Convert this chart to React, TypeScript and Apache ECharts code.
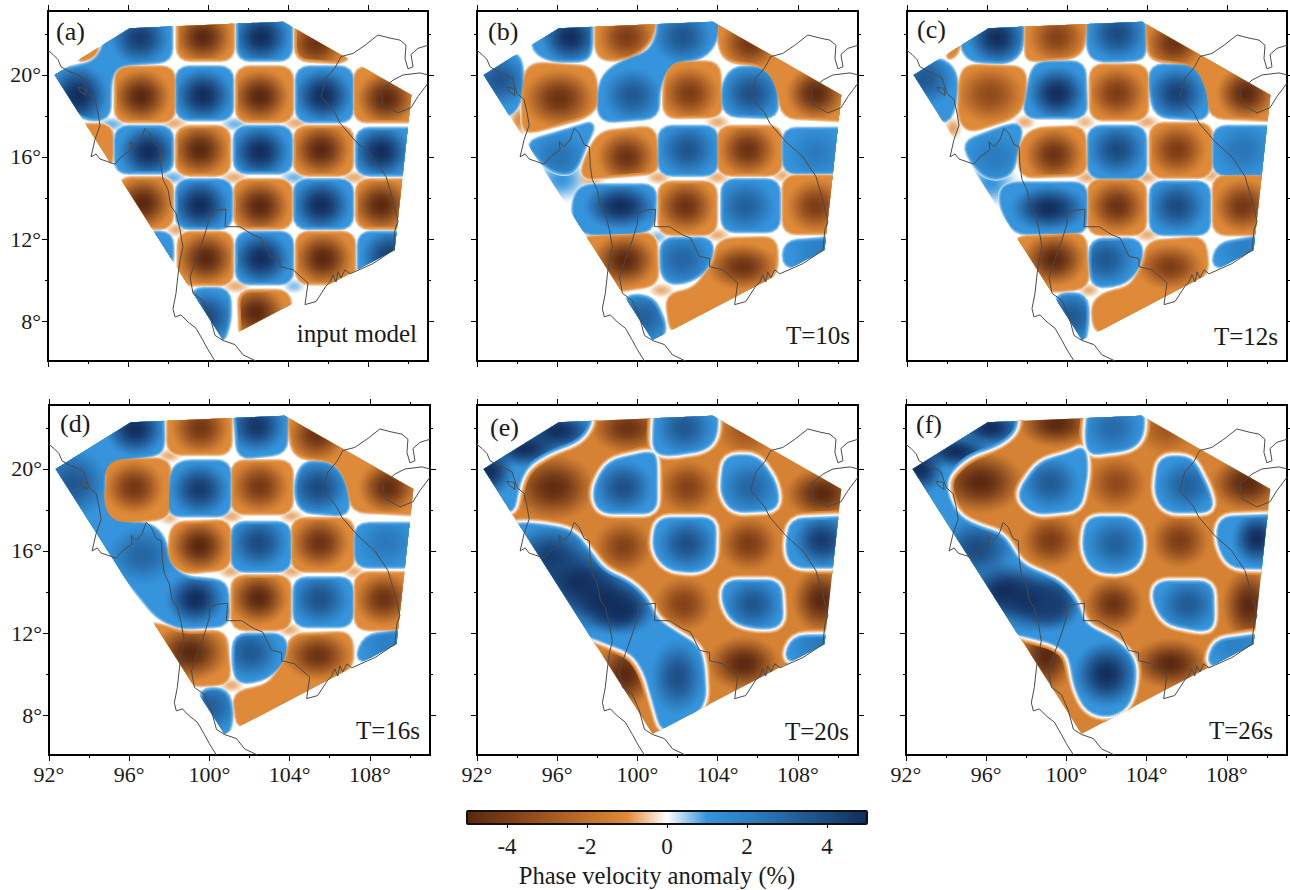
import React, { useEffect, useRef } from "react";
import * as echarts from "echarts";

const COLOR_VALUES = [-5, -4, -3, -2, -1, 0, 1, 2, 3, 4, 5];
const COLOR_HEX = ["#5a2810", "#7d3c16", "#a0561f", "#bf7029", "#df8a38", "#ffffff", "#3594dc", "#2c80c4", "#2465a2", "#1c4a80", "#122d5c"];
const COLORBAR_TICKS = [-4, -2, 0, 2, 4];
const LON_MAJOR = [92, 96, 100, 104, 108];
const LON_MINOR = [94, 98, 102, 106, 110];
const LAT_MAJOR = [8, 12, 16, 20];
const LAT_MINOR = [10, 14, 18, 22];
const REGION = [[92.33, 20], [96.08, 22.28], [103.75, 22.6], [110.17, 19.02], [109.33, 11.46], [100.75, 7.07]];

const COAST_WEST = [[92, 21.2], [92.25, 21], [92.5, 20.75], [92.65, 20.4], [93.1, 20.15], [93.5, 20], [93.75, 19.85], [94, 19.1], [94.35, 18.8], [94.5, 18.15], [94.6, 17.55], [94.35, 16.85], [94.15, 16], [94.4, 16.15], [94.6, 15.9], [94.9, 15.8], [95.35, 15.65], [95.65, 16], [96.15, 16.35], [96.1, 16.75], [96.35, 16.5], [96.65, 16.85], [96.85, 17.4], [97.1, 17.15], [97.35, 16.6], [97.6, 16.5], [97.65, 15.55], [97.75, 14.9], [98, 14.4], [98.15, 13.6], [98.4, 13.25], [98.6, 12.45], [98.75, 11.6], [98.6, 11], [98.5, 10.25], [98.4, 9.35], [98.25, 8.6], [98.35, 8.2], [98.65, 8.3], [99, 7.95], [99.4, 7.65], [99.75, 7.05], [100, 6.6], [100.35, 6.05]];
const COAST_EAST = [[102.4, 6.05], [101.75, 6.35], [101.35, 6.85], [100.75, 7.05], [100.35, 7.3], [100.1, 8.2], [99.75, 9], [99.25, 9.35], [99.1, 10.15], [99.4, 11], [99.75, 11.95], [100, 12.75], [100, 13.25], [100.4, 13.4], [100.9, 13.45], [100.85, 12.6], [101.6, 12.6], [102.25, 12.2], [102.65, 12.05], [103.1, 11.15], [103.6, 11.05], [103.6, 10.65], [104.25, 10.5], [105, 9.85], [104.85, 8.8], [105.4, 8.95], [105.9, 9.7], [106.1, 9.9], [106.25, 10.25], [106.4, 9.9], [106.5, 10.4], [106.65, 10.1], [106.85, 10.5], [107.1, 10.3], [108.25, 10.8], [109.25, 11.45], [109.35, 12.45], [109.5, 12.85], [109.25, 13.9], [108.9, 15.05], [108.25, 16], [107.4, 16.75], [106.6, 17.65], [106.35, 18.15], [105.65, 18.95], [105.9, 19.85], [106.35, 20.35], [106.65, 20.9], [107.25, 21.05], [107.85, 21.45], [108.5, 21.95], [109.1, 21.8], [109.6, 21.7], [109.9, 21.45], [109.85, 20.8], [110, 20.3], [110.25, 20.4], [110.15, 21], [110.5, 21.3], [111, 21.45]];
const COAST_HAINAN = [[111, 20], [110.6, 20.1], [109.75, 20], [109.25, 19.75], [108.65, 19.25], [108.75, 18.55], [109.5, 18.15], [110.15, 18.4], [110.5, 18.95], [111, 19.6]];
const COAST_ISLAND = [[93.5, 19.4], [93.85, 19.35], [93.9, 19], [93.6, 19.2], [93.5, 19.4]];

// Patches: sign, then W,E,S,N (rectangle) or lon,lat pairs (outline) of the anomaly contour.
const patchesA = [
  [1, 95, 23, 98.1, 23, 98.1, 20.75, 95.5, 20.55, 95.05, 19.9, 95, 17.9, 93.75, 17.9, 91.6, 20, 93.25, 20.3, 94.35, 20.55, 94.9, 21.4],
  [-1, 93.4, 20.7, 94.5, 21.6, 94.3, 20.95],
  [-1, 98.55, 101.2, 20.8, 23.2], [1, 101.55, 104.1, 20.8, 23.2],
  [-1, 104.45, 23, 108.25, 23, 106.85, 20.65, 104.45, 20.8],
  [-1, 95.45, 98.25, 17.8, 20.3], [1, 98.5, 101.15, 17.9, 20.3], [-1, 101.5, 104.15, 17.8, 20.3], [1, 104.5, 107.15, 17.8, 20.3], [-1, 107.4, 111.5, 17.8, 20.3],
  [-1, 93.25, 95.15, 15.55, 17.5], [1, 95.45, 98.15, 15.3, 17.4], [-1, 98.5, 101, 15.2, 17.4], [1, 101.4, 104.1, 15.3, 17.4], [-1, 104.4, 107.15, 15.2, 17.4], [1, 107.5, 111.5, 15.2, 17.3],
  [-1, 95.6, 98.15, 12.6, 14.9], [1, 98.5, 101.1, 12.6, 14.8], [-1, 101.4, 104.1, 12.6, 14.8], [1, 104.4, 107.15, 12.6, 14.8], [-1, 107.5, 111.5, 12.6, 14.8],
  [1, 96.5, 98.15, 10.6, 12.25], [-1, 98.6, 101.15, 9.85, 12.25], [1, 101.5, 104.15, 9.9, 12.25], [-1, 104.5, 107.25, 9.9, 12.25], [1, 107.6, 111.5, 10, 12.25],
  [1, 99.2, 9.5, 101, 9.5, 101.05, 8, 100.6, 6.8, 99.5, 6.8], [-1, 101.6, 9.4, 104, 9.4, 104.2, 7, 101.7, 7],
];
const peaksA = [
  [96.6, 21.8, 4.5], [99.75, 21.85, -5], [102.65, 21.85, 5], [105.4, 21.55, -4.5],
  [93.5, 19, 5, 1.6, 1.6], [96.65, 18.95, -5], [99.75, 19, 5], [102.6, 18.95, -5], [105.75, 19, 5], [108.9, 18.85, -5],
  [97, 16.25, 5], [99.6, 16.35, -5], [102.6, 16.25, 5], [105.65, 16.35, -5], [108.65, 16.25, 5],
  [96.75, 13.75, -5], [99.6, 13.65, 5], [102.6, 13.6, -5], [105.65, 13.65, 5], [108.65, 13.65, -5],
  [99.9, 11.05, -5], [102.65, 11.05, 5], [105.75, 11.05, -5], [109.1, 11.15, 4.5],
  [99.9, 8.2, 4], [102.4, 8.4, -5],
];
// Soft pale saddles: lon, lat, value, radius lon, radius lat.
const softA = [
  [98.3, 17.65, -0.7, 0.8, 0.4], [104.4, 17.65, -0.7, 0.8, 0.4], [101.3, 15, -0.7, 0.8, 0.4], [107.3, 15, -0.7, 0.8, 0.4], [101.4, 9.7, -0.7, 0.8, 0.4],
  [101.35, 17.6, 0.7, 0.8, 0.4], [95.2, 17.6, 0.7, 0.8, 0.4], [98.25, 15, 0.7, 0.8, 0.4], [104.3, 15, 0.7, 0.8, 0.4], [98.4, 12.45, -0.7, 0.6, 0.4], [104.3, 9.7, 0.6, 0.6, 0.4],
];

const patchesB = [
  [1, 94.75, 23, 97.65, 23, 97.65, 21.2, 97.35, 20.75, 95.75, 20.75, 94.85, 21.2],
  [-1, 98, 23, 100.85, 23, 100.75, 21.85, 99.95, 21, 98.6, 20.75, 98, 21.05],
  [1, 101.1, 23, 104, 23, 103.9, 21.7, 103.25, 20.9, 101.6, 20.65, 101, 19.45, 100.95, 18, 98.25, 17.8, 98.05, 18.8, 98.35, 20, 99.4, 20.65, 100.65, 21.05, 101.1, 22],
  [1, 91.6, 20, 93.9, 21.05, 94.2, 20.4, 94.2, 18.95, 93.65, 18, 92.6, 18.3],
  [-1, 94.75, 20.5, 97.75, 20.3, 98, 18.6, 97.4, 18, 94.75, 17.3, 94.35, 17.4, 94.35, 19.75],
  [-1, 101.75, 20.55, 104, 20.55, 104.15, 18.05, 101.4, 18, 101.4, 19.75],
  [1, 104.75, 20.3, 106.3, 20.3, 106.9, 19.45, 106.9, 18, 104.4, 18.1, 104.25, 19.3],
  [-1, 104.1, 23, 111.5, 23, 111.5, 17.8, 107.35, 18, 107, 19.4, 106.3, 20.5, 104.45, 20.75, 104.1, 21.55],
  [1, 94.5, 16.65, 97.05, 17.4, 97.85, 17.65, 97.35, 16.6, 96.9, 15.45, 96.4, 15.2, 95.6, 15.45],
  [-1, 98.2, 17.15, 100.8, 17.4, 101, 15.3, 97.2, 15, 97.6, 16.2],
  [1, 101.15, 103.9, 15.2, 17.4], [-1, 104.1, 107.1, 15.2, 17.4], [1, 107.35, 111.5, 15.3, 17.3],
  [1, 96.9, 14.05, 97.35, 14.55, 100.85, 14.55, 100.75, 12.6, 100, 12.35, 97.4, 12.3, 96.85, 12.95],
  [-1, 101.15, 103.85, 12.3, 14.7], [1, 104.3, 107, 12.45, 14.8], [-1, 107.35, 111.5, 12.35, 15],
  [-1, 97.1, 12, 100.85, 12.2, 100.95, 9.85, 98.75, 9.5, 96.9, 10.65],
  [1, 101.25, 11.95, 103.7, 11.95, 103.6, 10.8, 102.85, 10.1, 101.75, 9.85, 101.25, 10.3],
  [-1, 104.1, 11.9, 106.85, 12, 106.9, 10.4, 105.9, 9.5, 101.75, 7.4, 101.5, 9.2, 102.9, 9.5, 103.85, 10.8],
  [1, 107.35, 10.65, 107.4, 11.8, 110, 12, 110, 11],
  [1, 99.4, 9.2, 100.75, 9.1, 101.4, 7.65, 100.9, 6.75, 99.9, 6.75],
];
const peaksB = [
  [96.65, 21.85, 5], [99.45, 21.85, -4], [102.25, 21.85, 3.6], [105.6, 21.55, -4.3],
  [93.1, 19.75, 3.6], [96.1, 18.85, -4.5, 1.9, 1.5], [99.75, 19, 3.5], [102.6, 19.1, -4], [105.65, 19.1, 3.8], [108.9, 19.1, -5],
  [96.1, 16, 2.5], [99.45, 16, -4.5], [102.5, 16.35, 3.6], [105.5, 16.35, -4.5], [108.9, 16.2, 2.2],
  [99.15, 13.6, 5, 1.9, 1.2], [102.4, 13.6, -4.5], [105.4, 13.6, 3.2], [108.9, 13.6, -4],
  [99.35, 10.95, -5, 1.7, 1.4], [102.25, 11, 3], [105.25, 10.65, -4.5, 1.9, 1.2], [109, 11.55, 2], [100.3, 8.2, 3.2],
];
const softB = [
  [96.2, 14.9, 1, 1.5, 1.2], [94.1, 17.8, -1, 0.6, 0.9], [97.7, 14.9, -0.7, 0.8, 0.4], [101.05, 15, -0.7, 0.7, 0.4], [104, 15, -0.7, 0.7, 0.4],
  [107.2, 15.1, -0.7, 0.6, 0.4], [101, 12.1, 0.6, 0.6, 0.4], [104, 12.2, -0.7, 0.7, 0.4], [101.2, 9.5, -0.7, 0.7, 0.4], [104, 17.7, -0.7, 0.7, 0.4],
];

const patchesC = [
  [1, 94.9, 23, 97.75, 23, 97.7, 21.2, 97.05, 20.65, 95.2, 20.75, 94.75, 21.4],
  [-1, 94, 20.85, 94.6, 21.6, 94.4, 21],
  [-1, 98, 23, 100.95, 23, 100.8, 21.4, 100.35, 20.9, 98.1, 20.75, 98, 21.2],
  [1, 101.1, 23, 103.8, 23, 103.85, 21.05, 103.5, 20.8, 101.5, 20.75, 101.1, 21.2],
  [-1, 104.05, 23, 111.5, 23, 111.5, 17.8, 107.25, 18, 106.9, 19.6, 106.3, 20.55, 104.25, 20.8, 104.05, 21.55],
  [1, 91.6, 20, 93.6, 20.8, 94.4, 20.15, 94.4, 18.8, 94, 17.65, 92.7, 18.3],
  [-1, 95, 20.4, 97.85, 20.3, 97.85, 18.8, 97.35, 18, 95.1, 17.3, 94.65, 17.95, 94.7, 19.75],
  [1, 98.65, 20.55, 100.8, 20.55, 100.9, 18, 97.9, 18, 98.1, 19.25, 98.3, 20.15],
  [-1, 101.25, 103.95, 17.9, 20.4],
  [1, 104.25, 20.4, 106.35, 20.4, 106.95, 19.25, 107, 17.9, 104.5, 18.05, 104.2, 19.25],
  [1, 94.85, 16.65, 96.85, 17.4, 97.7, 17.55, 97.45, 16.35, 97.2, 15.2, 96.2, 14.95, 95.45, 15.55],
  [-1, 98.3, 17.3, 100.8, 17.4, 100.9, 15.2, 97.75, 15.1, 97.65, 16.5],
  [1, 101.15, 103.85, 15.05, 17.4], [-1, 104.25, 107.15, 15.1, 17.55], [1, 107.4, 111.5, 15.2, 17.4],
  [1, 96.75, 14.4, 97.25, 14.65, 100.9, 14.65, 100.9, 12.45, 100.1, 12.35, 97.4, 12.35, 96.75, 13.6],
  [-1, 101.15, 103.85, 12.3, 14.8], [1, 104.25, 107.05, 12.3, 14.7], [-1, 107.4, 111.5, 12.3, 15],
  [-1, 97.4, 12, 100.85, 12.2, 101, 9.7, 99.1, 9.5, 97, 10.65],
  [1, 101.25, 11.9, 103.65, 11.9, 103.65, 10.8, 102.9, 9.9, 101.4, 9.7, 101.2, 10.6],
  [-1, 104.1, 11.8, 106.8, 12, 107, 10.4, 105.95, 9.5, 101.5, 7.4, 101.3, 8.7, 101.8, 9.25, 103.25, 9.6, 103.9, 10.8],
  [1, 107.3, 10.65, 107.6, 11.7, 110, 12.1, 110, 11],
  [1, 99.45, 9.25, 100.9, 9.25, 101, 8.05, 100.75, 6.75, 99.9, 6.75],
];
const peaksC = [
  [96.5, 21.8, 5], [99.5, 21.85, -3.8], [102.5, 22, 4], [105.35, 21.55, -4.5],
  [92.9, 19.8, 3.5], [96.15, 19.05, -3.5, 1.8, 1.5], [99.5, 19.1, 5], [102.5, 19.1, -4], [105.5, 19.1, 4.3], [108.95, 19.1, -5],
  [96.4, 16, 2.2], [99.35, 16.1, -4.5], [102.5, 16.35, 4], [105.5, 16.35, -4], [108.8, 16.35, 2.4],
  [99.1, 13.5, 5.2, 2, 1.2], [102.5, 13.6, -4.5], [105.5, 13.6, 4], [108.8, 13.6, -4.3],
  [99.35, 11, -5.2, 1.7, 1.4], [101.95, 11, 3.5], [105.15, 10.65, -4, 1.8, 1.2], [108.85, 11.55, 2], [100.2, 8.2, 3.5],
];
const softC = [
  [96.2, 14.7, 1, 1.5, 1.2], [94.3, 17.4, -0.8, 0.5, 0.6], [97.9, 17.7, -0.7, 0.6, 0.4], [100.9, 17.7, -0.6, 0.6, 0.4], [104, 17.7, -0.7, 0.7, 0.4],
  [101, 15, -0.7, 0.7, 0.4], [104, 15, -0.7, 0.7, 0.4], [107.2, 15.1, -0.7, 0.6, 0.4], [104, 12.2, -0.7, 0.7, 0.4], [101.1, 9.5, -0.7, 0.6, 0.4],
];

const patchesD = [
  [1, 94.55, 23, 97.6, 23, 97.65, 21.05, 97.3, 20.75, 95.3, 20.5, 94.7, 19.95, 94.7, 18, 95.55, 17.35, 97.05, 17.25, 97.7, 16.6, 97.95, 15.3, 98.7, 14.65, 100.8, 14.45, 100.9, 12.45, 98.55, 12.3, 97.4, 12.85, 96.3, 14.2, 93.2, 17.1, 91.55, 20.2],
  [-1, 94.95, 20.4, 97.95, 20.4, 97.95, 17.7, 95.3, 17.4, 94.8, 18.1],
  [1, 98.55, 20.3, 100.95, 20.3, 100.95, 17.8, 98, 17.8, 98.1, 19.7],
  [-1, 101.2, 104.05, 17.9, 20.3],
  [1, 104.7, 20.3, 106.2, 20.2, 106.8, 19.15, 106.9, 17.8, 104.55, 18, 104.3, 19.15],
  [-1, 98, 101, 20.8, 23.2],
  [1, 101.3, 23, 103.85, 23, 103.75, 20.85, 101.5, 20.6],
  [-1, 104.05, 23, 111.5, 23, 111.5, 17.8, 107.2, 18, 106.85, 19.55, 106.25, 20.4, 104.35, 20.65, 104.05, 21.55],
  [-1, 98.2, 17.3, 100.95, 17.4, 100.95, 15.2, 98.7, 15, 98, 15.6],
  [1, 101.2, 103.95, 15.1, 17.3], [-1, 104.2, 107.1, 15.1, 17.5], [1, 107.35, 111.5, 15.3, 17.25],
  [-1, 101.2, 103.95, 12.25, 14.7], [1, 104.3, 107.05, 12.4, 14.6], [-1, 107.35, 111.5, 12.25, 14.85],
  [-1, 97.25, 12.4, 98.7, 11.95, 100.75, 12, 100.95, 9.6, 99, 9.5, 96.4, 12.3],
  [1, 101.3, 11.85, 103.7, 11.85, 103.8, 10.8, 102.85, 9.85, 101.5, 9.6, 101.25, 10.4],
  [-1, 104.1, 11.85, 107, 11.95, 107.1, 10.45, 106, 9.55, 101.5, 7.35, 101.25, 9, 103, 9.4, 103.85, 10.6],
  [1, 107.35, 10.65, 107.8, 11.8, 110, 12.1, 110, 11.1],
  [1, 99.55, 9.2, 100.85, 9.2, 101.1, 8, 100.85, 7, 100, 7],
];
const peaksD = [
  [96.3, 21.95, 5], [99.55, 22, -4.3], [102.35, 22.1, 4.7], [105.35, 21.65, -4.5],
  [93.2, 19.3, 3.5, 1.8, 1.8], [96.25, 19.1, -4.3], [99.5, 19, 4.5], [102.5, 19.15, -4.2], [105.4, 19.1, 4], [108.9, 19.1, -4.8],
  [96.65, 15.8, 3, 1.8, 1.5], [99.5, 16.25, -5], [102.45, 16.4, 4], [105.5, 16.4, -4.5], [108.8, 16.4, 2.3],
  [99.3, 13.65, 5.3], [102.45, 13.7, -5], [105.5, 13.65, 3.7], [108.7, 13.65, -4.5],
  [99.05, 11.05, -5.3, 2, 1.5], [102.05, 11.05, 3.5], [105.4, 10.9, -4.5, 1.8, 1.3], [108.85, 11.5, 2], [100.05, 8.4, 3.2],
];
const softD = [
  [98, 20.65, -0.7, 0.7, 0.4], [101.1, 17.7, -0.7, 0.7, 0.4], [104.1, 17.7, -0.7, 0.7, 0.4], [98, 17.6, -0.6, 0.6, 0.4],
  [101.05, 15, -0.7, 0.7, 0.4], [104.1, 15, -0.7, 0.7, 0.4], [107.2, 15, -0.7, 0.6, 0.4], [104, 12.15, -0.7, 0.7, 0.4], [101.1, 9.45, -0.7, 0.7, 0.4],
];

const patchesE = [
  [1, 91.65, 20, 96.1, 23, 97.6, 23, 97.6, 22.2, 97.05, 21.45, 95.55, 20.9, 94.55, 20.3, 94.1, 19.6, 93.9, 18.8, 93.75, 18, 93.1, 18],
  [1, 93.3, 17.15, 94.4, 17.25, 95.45, 17.15, 96.75, 16.9, 97.5, 16, 98.25, 15, 99.6, 14.4, 100.45, 13.6, 100.85, 12.6, 101.95, 11.9, 102.95, 11.3, 103.2, 10.5, 103.3, 8.7, 102.3, 7.4, 101.3, 7.25, 100.45, 10.15, 99.8, 11.1, 97.6, 11.95, 97.3, 11.8, 96.6, 12],
  [1, 98.05, 19.4, 98.65, 20.3, 100.7, 20.75, 100.85, 20.4, 100.85, 17.95, 98.25, 17.95, 97.9, 18.6],
  [1, 101, 23, 103.9, 23, 103.85, 21.55, 103.3, 21, 101.45, 20.75, 100.9, 20.95, 100.9, 21.85],
  [1, 104.45, 20.55, 105.95, 20.55, 106.85, 19.25, 106.95, 18.1, 104.8, 18, 104.3, 18.75, 104.3, 19.5],
  [1, 101.05, 17.5, 103.8, 17.5, 103.75, 15.5, 103, 15.05, 101.5, 15.2, 100.85, 16.1],
  [1, 107.7, 17.45, 111.5, 17.6, 111.5, 15.3, 107.85, 15.3, 107.5, 16],
  [1, 104.45, 14.45, 107.05, 14.45, 107.15, 12.4, 106, 12.3, 104.8, 12.6, 104.3, 13.6],
  [1, 107.4, 10.65, 107.8, 11.75, 110, 11.8, 110, 11.15],
];
const peaksE = [
  [96, 21.85, 5, 2, 1.1], [92.6, 19.9, 5, 1.3, 1.3], [94.4, 21, 5, 1.9, 1],
  [98.3, 13.6, 5.5, 2.4, 1.7], [97, 14.55, 5.5, 2.4, 1.7], [95.7, 15.7, 4.5, 2.2, 1.7], [99.2, 13.1, 5.5, 1.8, 1.3],
  [102, 9.85, 3.8, 1.4, 1.9], [99.3, 19.1, 3.8], [102.35, 22, 3.5], [105.6, 19.1, 3], [102.45, 16.35, 3.8], [109.2, 16.5, 4.5], [105.75, 13.4, 3.6], [109, 11.5, 2.2],
  [95.8, 19.1, -4.8, 2.2, 1.7], [99.5, 22, -4.5, 1.9, 1.3], [105.4, 21.9, -3], [102.5, 19.1, -3.8], [109.2, 18.8, -5.5, 1.9, 1.3],
  [99.3, 16.2, -3.8], [105.55, 16.35, -4], [102.3, 13.4, -3.8], [109.15, 13.6, -5.5, 1.5, 1.7], [105.3, 10.5, -5.5, 1.9, 1.4], [99.4, 10, -5, 1.6, 1.7],
];

const patchesF = [
  [1, 96, 23, 97.45, 23, 97.45, 22.2, 97.2, 21.7, 96.45, 21.2, 95.2, 20.8, 94.3, 20.1, 93.9, 19.45, 94, 18.55, 94.6, 17.55, 95.7, 17.05, 96.75, 16.75, 97.7, 15.25, 99.6, 14.45, 100.45, 13.55, 100.8, 12.35, 102.5, 11.5, 103.3, 10.7, 103.35, 9.6, 103, 8.45, 102.1, 8, 101.1, 8.25, 100.55, 9.25, 100.2, 11.05, 99.4, 11.6, 97.55, 12.05, 96.7, 12.2, 93.35, 17.1, 91.7, 20.2],
  [1, 97.85, 19.1, 98.7, 20.25, 100.3, 20.7, 100.85, 21, 100.95, 19.9, 100.6, 18.1, 98.5, 17.9, 97.75, 18.5],
  [1, 101.2, 23, 103.75, 23, 103.75, 21.65, 103.2, 21.05, 102, 20.9, 101.2, 20.8, 101.05, 21.6],
  [1, 101.1, 17.55, 103.25, 17.55, 103.75, 16.7, 103.6, 15.45, 102.75, 15, 101.4, 15.1, 100.9, 16.1],
  [1, 104.7, 20.5, 106.2, 20.5, 107, 19, 107.25, 18, 105, 18, 104.5, 18.8],
  [1, 107.7, 17.55, 111.5, 17.7, 111.5, 15.2, 108.2, 15.3, 107.6, 16.4],
  [1, 104.55, 14.4, 107.2, 14.4, 107.25, 12.35, 106.7, 12.2, 105, 12.55, 104.4, 13.6],
  [1, 107.1, 10.4, 107.45, 11.55, 110.1, 11.9, 110.1, 11.25],
];
const peaksF = [
  [96.2, 22, 5, 1.8, 1], [92.7, 20, 5.5, 1.3, 1.3], [94.5, 20.85, 5, 1.9, 0.9],
  [98.4, 13.55, 5.5, 2.3, 1.6], [96.9, 14.05, 5.5, 2.1, 1.5], [99.3, 13.4, 4.5], [95.55, 16.1, 4, 2, 1.6], [102, 10, 5.5, 1.7, 1.7],
  [99.2, 19.3, 3.4], [102.3, 22, 2.8], [102.45, 16.35, 3.2], [106, 19.2, 3.2], [109.5, 16.6, 5.5, 1.3, 1.4], [106.05, 13.4, 3.4], [108.4, 11.5, 2],
  [95.7, 19.35, -5, 2.3, 1.6], [99.5, 22.2, -5, 2, 1.2], [105, 22, -3], [102.5, 19.3, -3.5], [109, 19.3, -5.5, 1.9, 1.4],
  [99.2, 16.5, -4], [105.65, 16.5, -4], [102.35, 13.4, -4.5], [109.1, 13.35, -5.5, 1.4, 1.9], [105.2, 10.5, -5.5, 2, 1.3], [99, 10.9, -5.2, 1.5, 1.9],
];

const PANELS = [
  { letter: "(a)", label: "input model", patches: patchesA, peaks: peaksA, soft: softA, base: 0, box: [48, 11, 428, 361], letterXY: [56, 32], labelXY: [417, 335], showLat: true, showLon: false },
  { letter: "(b)", label: "T=10s", patches: patchesB, peaks: peaksB, soft: softB, base: 0, box: [477, 11, 858, 361], letterXY: [488, 32], labelXY: [850, 337], showLat: false, showLon: false },
  { letter: "(c)", label: "T=12s", patches: patchesC, peaks: peaksC, soft: softC, base: 0, box: [907, 11, 1287, 361], letterXY: [917, 30], labelXY: [1278, 338], showLat: false, showLon: false },
  { letter: "(d)", label: "T=16s", patches: patchesD, peaks: peaksD, soft: softD, base: 0, box: [49, 405, 430, 755], letterXY: [60, 424], labelXY: [420, 732], showLat: true, showLon: true },
  { letter: "(e)", label: "T=20s", patches: patchesE, peaks: peaksE, soft: [], base: -1.3, box: [477, 405, 858, 755], letterXY: [490, 428], labelXY: [849, 733], showLat: false, showLon: true },
  { letter: "(f)", label: "T=26s", patches: patchesF, peaks: peaksF, soft: [], base: -1.3, box: [906, 405, 1287, 755], letterXY: [916, 425], labelXY: [1273, 732], showLat: false, showLon: true },
];

const FONT = "'Liberation Serif', serif";
const hexRgb = (h: string) => [1, 3, 5].map((i) => parseInt(h.slice(i, i + 2), 16));
function colorRgb(v: number) {
  const x = Math.max(-5, Math.min(5, v));
  for (let i = 0; i < COLOR_VALUES.length - 1; i++) {
    if (x <= COLOR_VALUES[i + 1]) {
      const t = (x - COLOR_VALUES[i]) / (COLOR_VALUES[i + 1] - COLOR_VALUES[i]);
      const a = hexRgb(COLOR_HEX[i]);
      const b = hexRgb(COLOR_HEX[i + 1]);
      return a.map((c, k) => Math.round(c + (b[k] - c) * t));
    }
  }
  return hexRgb(COLOR_HEX[COLOR_HEX.length - 1]);
}
const color = (v: number, alpha = 1) => {
  const [r, g, b] = colorRgb(v);
  return alpha >= 1 ? `rgb(${r},${g},${b})` : `rgba(${r},${g},${b},${alpha.toFixed(3)})`;
};

function patchVertices(p: number[]) {
  if (p.length === 5) {
    const [, w, e, s, n] = p;
    return [[w, n], [e, n], [e, s], [w, s]];
  }
  const out: number[][] = [];
  for (let i = 1; i < p.length; i += 2) out.push([p[i], p[i + 1]]);
  return out;
}
function roundPoly(pts: number[][], r: number) {
  const out: number[][] = [];
  const n = pts.length;
  for (let i = 0; i < n; i++) {
    const p = pts[i];
    const a = pts[(i + n - 1) % n];
    const b = pts[(i + 1) % n];
    const la = Math.hypot(a[0] - p[0], a[1] - p[1]) || 1;
    const lb = Math.hypot(b[0] - p[0], b[1] - p[1]) || 1;
    const ra = Math.min(r, la / 2);
    const rb = Math.min(r, lb / 2);
    const s = [p[0] + ((a[0] - p[0]) / la) * ra, p[1] + ((a[1] - p[1]) / la) * ra];
    const e = [p[0] + ((b[0] - p[0]) / lb) * rb, p[1] + ((b[1] - p[1]) / lb) * rb];
    for (let k = 0; k <= 4; k++) {
      const t = k / 4;
      const u = 1 - t;
      out.push([u * u * s[0] + 2 * u * t * p[0] + t * t * e[0], u * u * s[1] + 2 * u * t * p[1] + t * t * e[1]]);
    }
  }
  return out;
}
function inside(pt: number[], poly: number[][]) {
  let hit = false;
  for (let i = 0, j = poly.length - 1; i < poly.length; j = i++) {
    const [xi, yi] = poly[i];
    const [xj, yj] = poly[j];
    if (yi > pt[1] !== yj > pt[1] && pt[0] < ((xj - xi) * (pt[1] - yi)) / (yj - yi) + xi) hit = !hit;
  }
  return hit;
}

const SAT_D = 0.5; // offset at which the patch reaches full strength
const WHITE_D = 4.5; // offset at which it has faded to white
const OUTER_D = 9; // offset at which a base panel is back to its base colour
const CORNER = 12;
const PEAK_STOPS = [0, 0.15, 0.3, 0.45, 0.6, 0.75, 0.9, 1];

function peakEl(api: any, pk: number[], shapes: any[]) {
  const [lon, lat, v, rx = 1.55, ry = 1.4] = pk;
  const c = api.coord([lon, lat]);
  const c2 = api.coord([lon + rx, lat - ry]);
  const colorStops = PEAK_STOPS.map((r) => ({
    offset: r,
    color: color(v, Math.pow(Math.cos((r * Math.PI) / 2), 1.4)),
  }));
  const owner = shapes.find((s) => s.sign * v > 0 && inside(c, s.points));
  const el: any = {
    type: "ellipse",
    shape: { cx: c[0], cy: c[1], rx: c2[0] - c[0], ry: c2[1] - c[1] },
    style: { fill: { type: "radial", x: 0.5, y: 0.5, r: 0.5, colorStops } },
    silent: true,
  };
  if (owner) el.clipPath = { type: "polygon", shape: { points: owner.points } };
  return el;
}

function makeField(panel: any) {
  return (_params: any, api: any) => {
    const children: any[] = [];
    const base = panel.base;
    const shapes = panel.patches.map((p: number[]) => ({
      sign: p[0],
      points: roundPoly(patchVertices(p).map((q) => api.coord(q)), CORNER),
    }));
    const dists: number[] = [];
    for (let d = base ? OUTER_D : WHITE_D; d > SAT_D; d -= 0.5) dists.push(d);
    dists.push(SAT_D);
    if (base) {
      const a = api.coord([91, 24]);
      const b = api.coord([112, 5]);
      children.push({ type: "rect", shape: { x: a[0], y: a[1], width: b[0] - a[0], height: b[1] - a[1] }, style: { fill: color(base) }, silent: true });
      panel.peaks.filter((k: number[]) => k[2] * base > 0).forEach((k: number[]) => children.push(peakEl(api, k, [])));
    }
    panel.soft.forEach((k: number[]) => children.push(peakEl(api, k, [])));
    dists.forEach((d) => {
      shapes.forEach((s: any) => {
        let val;
        if (d > WHITE_D) {
          val = (base * (d - WHITE_D)) / (OUTER_D - WHITE_D);
        } else {
          const t = (d - SAT_D) / (WHITE_D - SAT_D);
          val = s.sign * (1 - t * t);
        }
        if (!base && d === WHITE_D) return;
        const c = color(val);
        children.push({
          type: "polygon",
          shape: { points: s.points },
          style: { fill: c, stroke: c, lineWidth: d * 2, lineJoin: "round" },
          silent: true,
        });
      });
    });
    panel.peaks
      .filter((k: number[]) => !base || k[2] * base < 0)
      .forEach((k: number[]) => children.push(peakEl(api, k, shapes)));
    return {
      type: "group",
      clipPath: { type: "polygon", shape: { points: REGION.map((q) => api.coord(q)) } },
      children,
    };
  };
}

function buildOption() {
  const grid: any[] = [];
  const xAxis: any[] = [];
  const yAxis: any[] = [];
  const series: any[] = [];
  const graphic: any[] = [];
  const line = { show: true, onZero: false, lineStyle: { color: "#000", width: 2 } };

  PANELS.forEach((panel, i) => {
    const [l, t, r, b] = panel.box;
    grid.push({ left: l, top: t, width: r - l, height: b - t, show: false });
    const xBase = { type: "value", gridIndex: i, min: 92, max: 111, splitLine: { show: false }, axisLine: line };
    const yBase = { type: "value", gridIndex: i, min: 6.05, max: 23.12, splitLine: { show: false }, axisLine: line };
    const firstX = xAxis.length;
    const firstY = yAxis.length;
    const label = (show: boolean, vals: number[], margin: number) => ({
      show,
      customValues: vals,
      formatter: "{value}°",
      fontFamily: FONT,
      fontSize: 22,
      color: "#1a1a1a",
      margin,
      showMinLabel: true,
      showMaxLabel: true,
    });
    const tick = (vals: number[], len: number) => ({ show: true, customValues: vals, length: len, lineStyle: { color: "#000", width: 1 } });
    xAxis.push({ ...xBase, position: "bottom", axisTick: tick(LON_MAJOR, 6), axisLabel: label(panel.showLon, LON_MAJOR, 8) });
    xAxis.push({ ...xBase, position: "bottom", axisTick: tick(LON_MINOR, 3), axisLabel: { show: false } });
    xAxis.push({ ...xBase, position: "top", axisTick: tick(LON_MAJOR, 6), axisLabel: { show: false } });
    xAxis.push({ ...xBase, position: "top", axisTick: tick(LON_MINOR, 3), axisLabel: { show: false } });
    yAxis.push({ ...yBase, position: "left", axisTick: tick(LAT_MAJOR, 6), axisLabel: label(panel.showLat, LAT_MAJOR, 7) });
    yAxis.push({ ...yBase, position: "left", axisTick: tick(LAT_MINOR, 3), axisLabel: { show: false } });
    yAxis.push({ ...yBase, position: "right", axisTick: tick(LAT_MAJOR, 6), axisLabel: { show: false } });
    yAxis.push({ ...yBase, position: "right", axisTick: tick(LAT_MINOR, 3), axisLabel: { show: false } });

    series.push({
      type: "custom",
      xAxisIndex: firstX,
      yAxisIndex: firstY,
      data: [[100, 15]],
      renderItem: makeField(panel),
      silent: true,
      z: 1,
    });
    [COAST_WEST, COAST_EAST, COAST_HAINAN, COAST_ISLAND].forEach((coast) => {
      series.push({
        type: "line",
        xAxisIndex: firstX,
        yAxisIndex: firstY,
        data: coast,
        showSymbol: false,
        silent: true,
        clip: true,
        lineStyle: { color: "#4a4a4a", width: 1 },
        z: 2,
      });
    });
    graphic.push({
      type: "text", left: panel.letterXY[0], top: panel.letterXY[1] - 14,
      style: { text: panel.letter, font: `26px ${FONT}`, fill: "#1a1a1a" }, z: 10,
    });
    graphic.push({
      type: "text", right: 1290 - panel.labelXY[0], top: panel.labelXY[1] - 14,
      style: { text: panel.label, font: `25px ${FONT}`, fill: "#1a1a1a" }, z: 10,
    });
  });

  // Colour bar
  const barIndex = grid.length;
  grid.push({ left: 467, top: 811, width: 400, height: 13, show: false });
  const barX = xAxis.length;
  const barY = yAxis.length;
  xAxis.push({
    type: "value", gridIndex: barIndex, min: -5, max: 5, position: "bottom",
    splitLine: { show: false },
    axisLine: { show: false, onZero: false },
    axisTick: { show: true, customValues: COLORBAR_TICKS, length: 4, lineStyle: { color: "#000", width: 1 } },
    axisLabel: { show: true, customValues: COLORBAR_TICKS, fontFamily: FONT, fontSize: 23, color: "#1a1a1a", margin: 11 },
    name: "Phase velocity anomaly (%)",
    nameLocation: "middle",
    nameGap: 39,
    nameTextStyle: { fontFamily: FONT, fontSize: 24.6, color: "#1a1a1a", padding: [0, 20, 0, 0] },
  });
  yAxis.push({ type: "value", gridIndex: barIndex, min: 0, max: 1, show: false });
  series.push({
    type: "custom",
    xAxisIndex: barX,
    yAxisIndex: barY,
    data: [[0, 0]],
    silent: true,
    renderItem: (_p: any, api: any) => {
      const a = api.coord([-5, 1]);
      const b = api.coord([5, 0]);
      return {
        type: "rect",
        shape: { x: a[0], y: a[1], width: b[0] - a[0], height: b[1] - a[1], r: 1 },
        style: {
          fill: {
            type: "linear", x: 0, y: 0, x2: 1, y2: 0,
            colorStops: COLOR_VALUES.map((v, i) => ({ offset: (v + 5) / 10, color: COLOR_HEX[i] })),
          },
          stroke: "#111",
          lineWidth: 2,
        },
      };
    },
  });

  return { animation: false, backgroundColor: "#fff", grid, xAxis, yAxis, series, graphic };
}

export default function App() {
  const ref = useRef<HTMLDivElement>(null);
  useEffect(() => {
    if (!ref.current) return;
    const chart = echarts.init(ref.current, undefined, { renderer: "svg" });
    chart.setOption(buildOption() as any);
    return () => chart.dispose();
  }, []);
  return <div ref={ref} style={{ position: "absolute", left: 0, top: 0, width: 1290, height: 890 }} />;
}
